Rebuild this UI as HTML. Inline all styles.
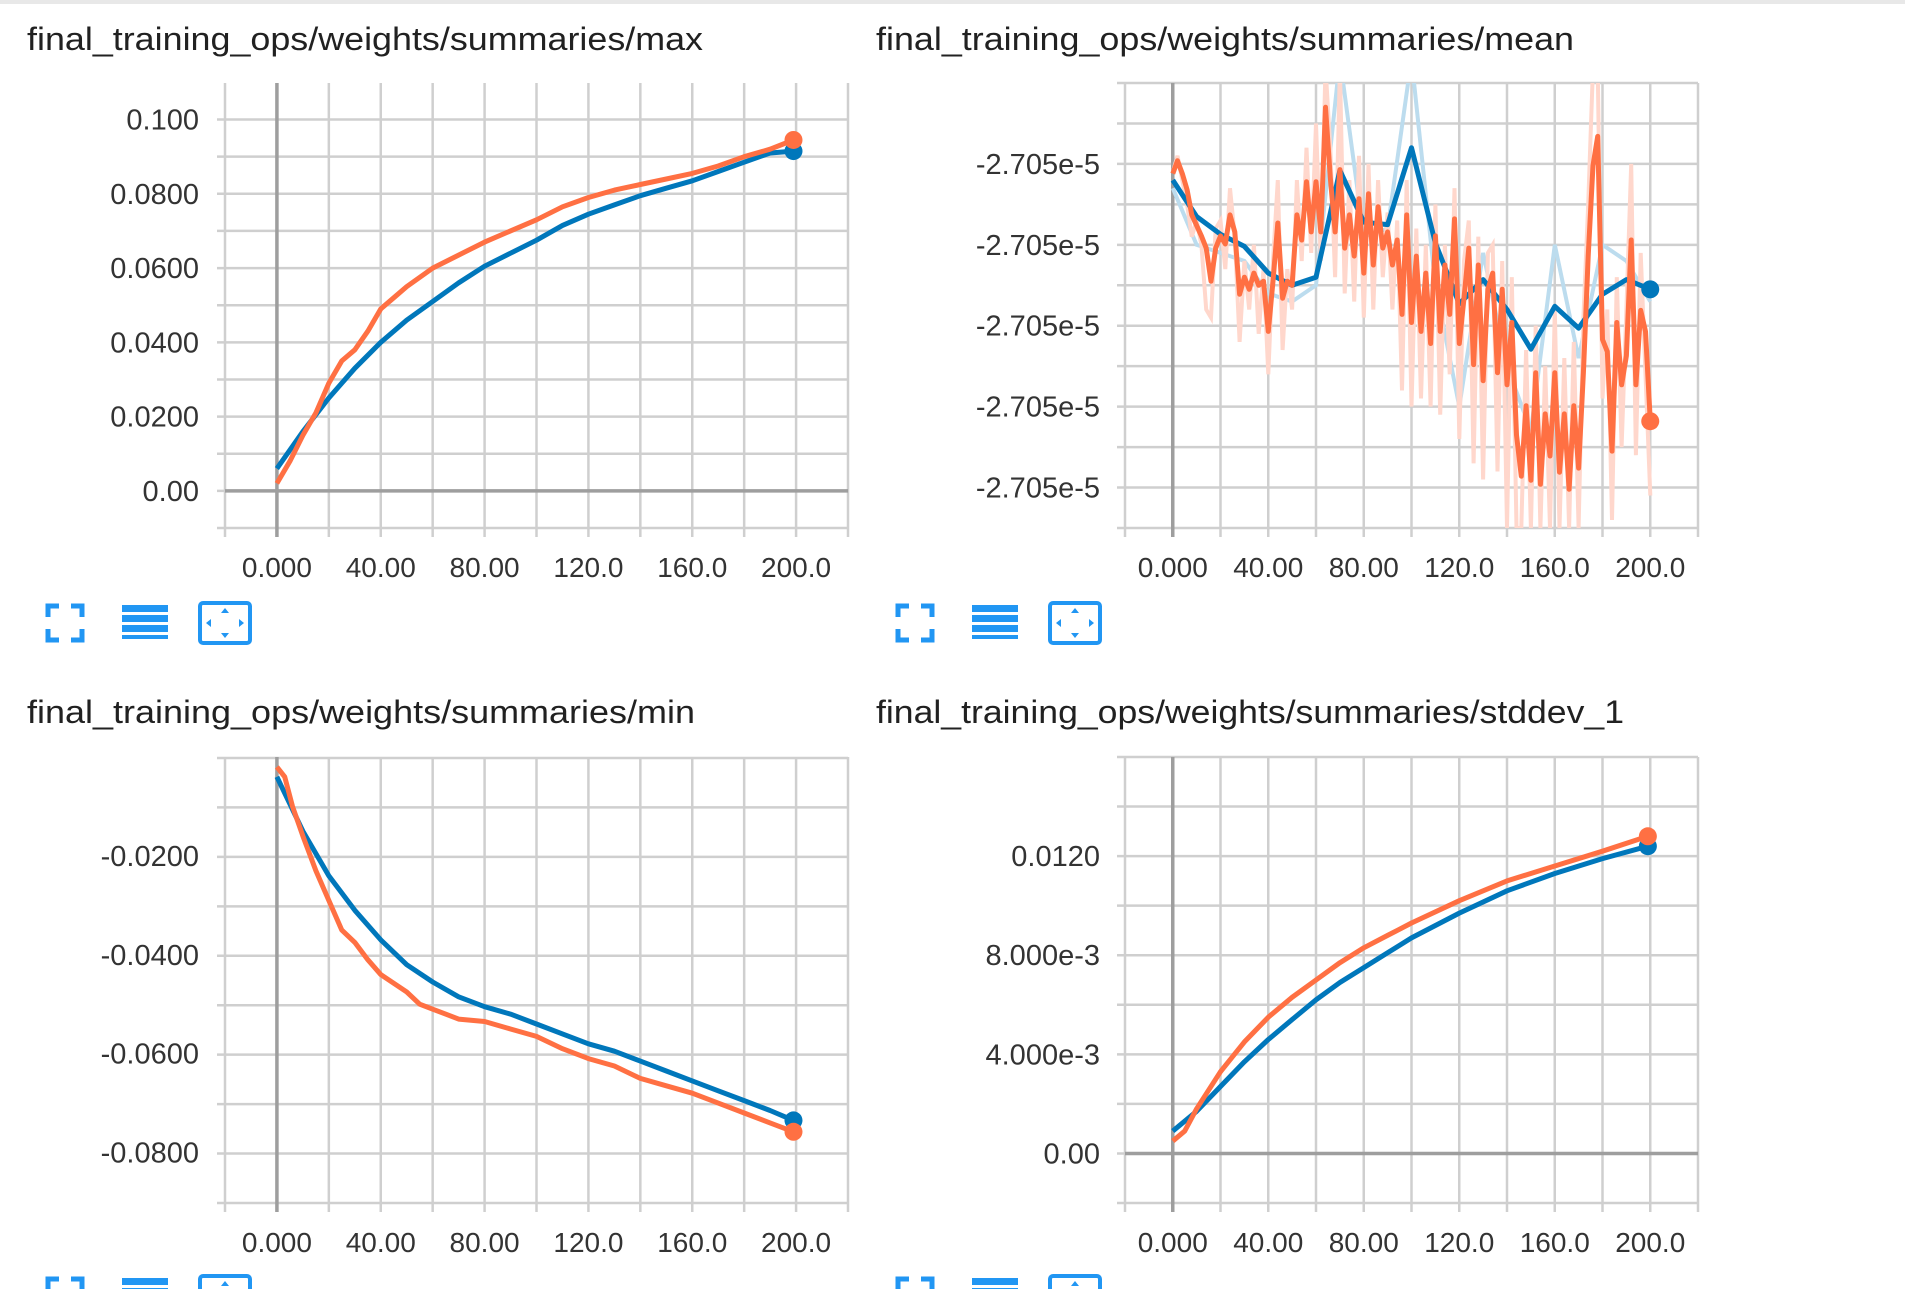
<!DOCTYPE html>
<html><head><meta charset="utf-8">
<style>
body{margin:0;background:#fff;width:1905px;height:1289px;overflow:hidden;font-family:"Liberation Sans",sans-serif;}
#topbar{position:absolute;left:0;top:0;width:1905px;height:4px;background:#e8e8e8;}
svg{position:absolute;left:0;top:0;}
</style></head>
<body>
<div id="topbar"></div>
<svg id="s" width="1905" height="1289"></svg>
<script>
// shared x ticks
const xTicks=[0,40,80,120,160,200];
const xTickLabels=["0.000","40.00","80.00","120.0","160.0","200.0"];
// max panel
const maxStepsBlue=[0,10,20,30,40,50,60,70,80,90,100,110,120,130,140,150,160,170,180,190,199];
const maxBlue=[0.006,0.016,0.025,0.033,0.040,0.046,0.051,0.056,0.0605,0.064,0.0675,0.0715,0.0745,0.077,0.0795,0.0815,0.0835,0.086,0.0885,0.091,0.0915];
const maxStepsOrange=[0,5,10,15,20,25,30,35,40,45,50,60,70,80,90,100,110,120,130,140,150,160,170,180,190,199];
const maxOrange=[0.002,0.008,0.015,0.021,0.029,0.035,0.038,0.043,0.049,0.052,0.055,0.060,0.0635,0.067,0.070,0.073,0.0765,0.079,0.081,0.0825,0.084,0.0855,0.0875,0.090,0.092,0.0945];
const maxYTicks=[0,0.02,0.04,0.06,0.08,0.1];
const maxYLabels=["0.00","0.0200","0.0400","0.0600","0.0800","0.100"];
// mean panel (values in offset units; each tick label step = 1 unit)
const meanStepsBlue=[0,10,20,30,40,50,60,70,80,90,100,110,120,130,140,150,160,170,180,190,200];
const meanBlue=[0.2,0.65,0.87,1.02,1.35,1.5,1.4,0.08,0.72,0.75,-0.2,0.98,1.73,1.43,1.8,2.29,1.76,2.03,1.61,1.43,1.55];
const meanBlueRaw=[0.3,1.0,1.1,1.2,1.6,1.7,1.5,-1.3,0.9,0.8,-1.3,1.5,3.0,1.1,2.5,3.3,1.0,2.4,1.0,1.2,1.7];
const meanStepsOrange=[0,2,4,6,8,10,12,14,16,18,20,22,24,26,28,30,32,34,36,38,40,42,44,46,48,50,52,54,56,58,60,62,64,66,68,70,72,74,76,78,80,82,84,86,88,90,92,94,96,98,100,102,104,106,108,110,112,114,116,118,120,122,124,126,128,130,132,134,136,138,140,142,144,146,148,150,152,154,156,158,160,162,164,166,168,170,172,174,176,178,180,182,184,186,188,190,192,194,196,198,200];
const meanOrange=[0.12,-0.04,0.12,0.32,0.63,0.76,0.89,1.04,1.45,1.04,0.89,0.99,0.63,0.84,1.61,1.40,1.55,1.35,1.50,1.45,2.07,1.45,0.73,1.66,1.45,1.50,0.63,0.94,0.22,0.84,0.22,0.84,-0.70,0.17,0.84,0.07,1.04,0.63,1.14,0.43,1.35,0.37,1.25,0.53,1.04,0.84,1.25,0.94,1.86,0.63,1.96,1.14,2.07,1.35,2.22,0.89,2.07,1.25,1.86,0.68,2.22,1.66,1.04,2.48,1.25,2.68,1.55,1.35,2.58,1.55,2.73,1.96,3.35,3.86,2.99,3.91,2.58,3.96,3.09,3.61,2.58,3.81,3.09,4.02,2.99,3.76,2.58,1.14,0.02,-0.34,2.17,2.32,3.55,1.96,2.73,2.37,0.94,2.73,1.81,2.07,3.18];
const meanOrangeRaw=[0.1,-0.1,0.2,0.5,0.9,0.7,1.0,1.8,1.9,0.8,0.7,1.3,0.3,0.9,2.2,1.2,1.8,1.0,2.1,1.3,2.6,1.2,0.2,2.3,1.3,1.8,0.2,1.2,-0.2,1.1,-0.5,1.2,-1.2,-0.2,1.4,-1.2,1.6,0.2,1.7,-0.1,1.9,0.0,1.8,0.2,1.4,0.6,1.8,0.7,2.8,0.2,3.0,0.8,2.9,1.0,3.0,0.5,3.1,1.0,2.6,0.3,3.4,1.2,0.7,3.7,0.9,3.9,1.1,1.0,3.8,1.2,4.5,1.4,4.5,4.5,2.3,4.5,2.0,4.5,2.5,4.5,1.8,4.5,2.4,4.5,2.2,4.5,1.9,0.5,-1.2,-1.2,2.9,1.8,4.4,1.4,3.5,1.8,0.0,3.6,1.1,2.6,4.1];
const meanYTicks=[0,1,2,3,4];
const meanYLabels=["-2.705e-5","-2.705e-5","-2.705e-5","-2.705e-5","-2.705e-5"];
// min panel
const minStepsBlue=[0,10,20,30,40,50,60,70,80,90,100,110,120,130,140,150,160,170,180,190,199];
const minBlue=[-0.004,-0.015,-0.024,-0.031,-0.037,-0.042,-0.0455,-0.0485,-0.0505,-0.052,-0.054,-0.056,-0.058,-0.0595,-0.0615,-0.0635,-0.0655,-0.0675,-0.0695,-0.0715,-0.0735];
const minStepsOrange=[0,3,6,10,15,20,25,30,35,40,50,55,60,65,70,80,90,100,110,120,130,140,150,160,170,180,190,199];
const minOrange=[-0.002,-0.004,-0.010,-0.016,-0.023,-0.029,-0.035,-0.0375,-0.041,-0.044,-0.0475,-0.050,-0.051,-0.052,-0.053,-0.0535,-0.055,-0.0565,-0.059,-0.061,-0.0625,-0.065,-0.0665,-0.068,-0.070,-0.072,-0.074,-0.0758];
const minYTicks=[-0.02,-0.04,-0.06,-0.08];
const minYLabels=["-0.0200","-0.0400","-0.0600","-0.0800"];
// stddev panel
const sdStepsBlue=[0,10,20,30,40,50,60,70,80,90,100,120,140,160,180,199];
const sdBlue=[0.0009,0.0017,0.0027,0.0037,0.0046,0.0054,0.0062,0.0069,0.0075,0.0081,0.0087,0.0097,0.0106,0.0113,0.0119,0.0124];
const sdStepsOrange=[0,5,10,20,30,40,50,60,70,80,90,100,120,140,160,180,199];
const sdOrange=[0.0005,0.0009,0.0018,0.0033,0.0045,0.0055,0.0063,0.0070,0.0077,0.0083,0.0088,0.0093,0.0102,0.0110,0.0116,0.0122,0.0128];
const sdYTicks=[0,0.004,0.008,0.012];
const sdYLabels=["0.00","4.000e-3","8.000e-3","0.0120"];

const NS="http://www.w3.org/2000/svg";
const svg=document.getElementById('s');
function mk(tag,attrs,parent){const e=document.createElementNS(NS,tag);for(const k in attrs)e.setAttribute(k,attrs[k]);(parent||svg).appendChild(e);return e;}

function panel(o){
  const g=mk('g',{});
  
  
  const X=v=>o.x0+(v-o.xmin)/(o.xmax-o.xmin)*(o.x1-o.x0);
  const Y=v=>o.y1-(v-o.ymin)/(o.ymax-o.ymin)*(o.y1-o.y0);
  const t=mk('text',{x:o.tx,y:o.ty,'font-size':32,fill:'#212121',textLength:o.tw,lengthAdjust:'spacingAndGlyphs'},g);
  t.textContent=o.title;
  
  
  for(let v=o.ymin;Math.abs(v-o.ymin)<=Math.abs(o.ymax-o.ymin)+1e-12;v+=o.gstep){
    const l=mk('line',{x1:o.x0-8,x2:o.x1,y1:Y(v),y2:Y(v),stroke:'#cfcfcf','stroke-width':2.5},g);
    
    
  }
  for(let v=o.xmin;v<=o.xmax+1e-9;v+=20){
    const l=mk('line',{x1:X(v),x2:X(v),y1:o.y0,y2:o.y1+9,stroke:'#cfcfcf','stroke-width':2.5},g);
    
    
  }
  if(o.zeroLine){
    const z=mk('line',{x1:o.x0,x2:o.x1,y1:Y(0),y2:Y(0),stroke:'#9e9e9e','stroke-width':3.5},g);
    
    
  }
  const ax=mk('line',{x1:X(0),x2:X(0),y1:o.y0,y2:o.y1+9,stroke:'#9e9e9e','stroke-width':3.5},g);
  
  
  xTicks.forEach((v,i)=>{
    const e=mk('text',{x:X(v),y:o.y1+49,'font-size':28,fill:'#333','text-anchor':'middle'},g);
    e.textContent=xTickLabels[i];
    
    
  });
  o.yt.forEach((v,i)=>{
    const e=mk('text',{x:o.lx,y:Y(v)+10,'font-size':29,fill:'#333','text-anchor':'end'},g);
    e.textContent=o.yl[i];
    
    
  });
  const cid='clip'+o.name;
  const cp=mk('clipPath',{id:cid},g);mk('rect',{x:o.x0,y:o.y0,width:o.x1-o.x0,height:o.y1-o.y0},cp);
  const path=(st,vals)=>st.map((s,i)=>(i?'L':'M')+X(s).toFixed(1)+' '+Y(vals[i]).toFixed(1)).join(' ');
  if(o.braw){
    const p=mk('path',{d:path(o.bs,o.braw),fill:'none',stroke:'#bcdcee','stroke-width':4,'clip-path':'url(#'+cid+')'},g);
    
    
  }
  if(o.oraw){
    const p=mk('path',{d:path(o.os,o.oraw),fill:'none',stroke:'#ffd7cc','stroke-width':4,'clip-path':'url(#'+cid+')'},g);
    
    
  }
  const series=[[o.bs,o.bv,'#0077bb','series-blue'],[o.os,o.ov,'#ff7043','series-orange']];
  series.forEach(s=>{
    const p=mk('path',{d:path(s[0],s[1]),fill:'none',stroke:s[2],'stroke-width':5,'stroke-linejoin':'round','clip-path':'url(#'+cid+')'},g);
    
    
  });
  series.forEach(s=>{
    const n=s[0].length-1;
    const c=mk('circle',{cx:X(s[0][n]),cy:Y(s[1][n]),r:9,fill:s[2]},g);
    
    
  });
  const iy=o.iconY, ix=o.iconX;
  const ic1=mk('g',{},g);
  
  
  const s=34;
  [[0,0,1,1],[s,0,-1,1],[0,s,1,-1],[s,s,-1,-1]].forEach(c=>{
    mk('path',{d:`M${ix+c[0]} ${iy-17+c[1]+c[3]*11} V${iy-17+c[1]} H${ix+c[0]+c[2]*11}`,fill:'none',stroke:'#2196f3','stroke-width':5},ic1);
  });
  const ic2=mk('g',{},g);
  
  
  for(let k=0;k<4;k++) mk('rect',{x:ix+74,y:iy-18+k*10,width:46,height:k==3?4:7,fill:'#2196f3'},ic2);
  const ic3=mk('g',{},g);
  
  
  mk('rect',{x:ix+152,y:iy-20,width:50,height:40,rx:3,fill:'none',stroke:'#2196f3','stroke-width':4},ic3);
  const m=ix+177;
  mk('path',{d:`M${m-4} ${iy-10} L${m+4} ${iy-10} L${m} ${iy-15}Z M${m-4} ${iy+10} L${m+4} ${iy+10} L${m} ${iy+15}Z M${ix+158} ${iy} L${ix+163} ${iy-4} L${ix+163} ${iy+4}Z M${ix+196} ${iy} L${ix+191} ${iy-4} L${ix+191} ${iy+4}Z`,fill:'#2196f3'},ic3);
}
panel({name:'max-chart',title:'final_training_ops/weights/summaries/max',tx:27,ty:50,tw:676,x0:225,x1:848,y0:83,y1:528,xmin:-20,xmax:220,ymin:-0.01,ymax:0.10984,gstep:0.01,yt:maxYTicks,yl:maxYLabels,lx:199,zeroLine:true,bs:maxStepsBlue,bv:maxBlue,os:maxStepsOrange,ov:maxOrange,iconX:48,iconY:623});
panel({name:'mean-chart',title:'final_training_ops/weights/summaries/mean',tx:876,ty:50,tw:698,x0:1125,x1:1698,y0:83,y1:528,xmin:-20,xmax:220,ymin:4.5,ymax:-1.0,gstep:-0.5,yt:meanYTicks,yl:meanYLabels,lx:1100,zeroLine:false,bs:meanStepsBlue,bv:meanBlue,braw:meanBlueRaw,os:meanStepsOrange,ov:meanOrange,oraw:meanOrangeRaw,iconX:898,iconY:623});
panel({name:'min-chart',title:'final_training_ops/weights/summaries/min',tx:27,ty:723,tw:668,x0:225,x1:848,y0:757,y1:1203,xmin:-20,xmax:220,ymin:-0.0902,ymax:0,gstep:0.01,yt:minYTicks,yl:minYLabels,lx:199,zeroLine:false,bs:minStepsBlue,bv:minBlue,os:minStepsOrange,ov:minOrange,iconX:48,iconY:1296});
panel({name:'stddev-chart',title:'final_training_ops/weights/summaries/stddev_1',tx:876,ty:723,tw:748,x0:1125,x1:1698,y0:757,y1:1203,xmin:-20,xmax:220,ymin:-0.002,ymax:0.016,gstep:0.002,yt:sdYTicks,yl:sdYLabels,lx:1100,zeroLine:true,bs:sdStepsBlue,bv:sdBlue,os:sdStepsOrange,ov:sdOrange,iconX:898,iconY:1296});
</script>
</body></html>
